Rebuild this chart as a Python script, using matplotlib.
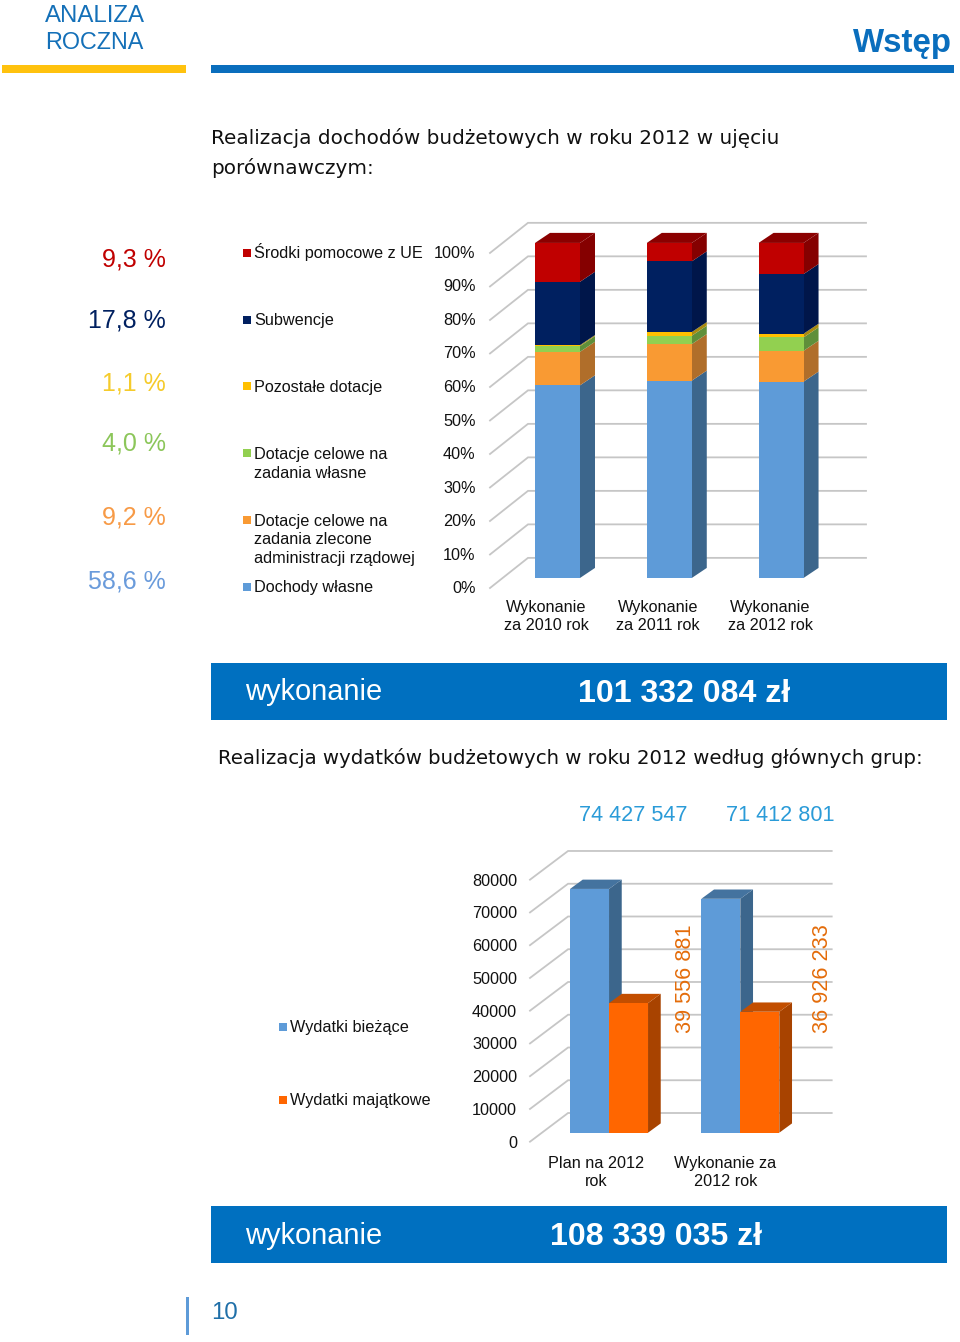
import matplotlib
matplotlib.use('Agg')
import matplotlib.pyplot as plt
from matplotlib.patches import Rectangle

W, H = 960, 1342
SANS = 'Liberation Sans'

# income shares, bottom to top of the stack
income_years = ['Wykonanie\nza 2010 rok', 'Wykonanie\nza 2011 rok', 'Wykonanie\nza 2012 rok']
dochody_wlasne = [57.5, 58.9, 58.6]
dotacje_zlecone = [10.0, 10.9, 9.2]
dotacje_wlasne = [1.7, 2.5, 4.0]
pozostale_dotacje = [0.3, 1.1, 1.1]
subwencje = [18.9, 21.1, 17.8]
srodki_ue = [11.6, 5.5, 9.3]
income_ticks = list(range(0, 101, 10))

# spending, thousands of zl
spend_cats = ['Plan na 2012\nrok', 'Wykonanie za\n2012 rok']
wydatki_biezace = [74427.547, 71412.801]
wydatki_majatkowe = [39556.881, 36926.233]
spend_ticks = list(range(0, 80001, 10000))

GRID = '#c6c6c6'
TICK_SIZE = 16.3

income_series = [
    (dochody_wlasne, '#5e9bd8', '#3c668c', '#3c668c'),
    (dotacje_zlecone, '#f99a33', '#b06e2a', '#b06e2a'),
    (dotacje_wlasne, '#92d050', '#5f8f3a', '#5f8f3a'),
    (pozostale_dotacje, '#ffc000', '#a98a10', '#a98a10'),
    (subwencje, '#002060', '#00164a', '#00164a'),
    (srodki_ue, '#c00000', '#850000', '#8b0000'),
]


def px(size):
    return size * 0.72


def axes_px(fig, left, top, right, bottom):
    return fig.add_axes([left / W, 1 - bottom / H, (right - left) / W, (bottom - top) / H])


def box3d(ax, x0, x1, y0, y1, dx, dy, face, side, top=None, z=3):
    ax.fill([x0, x1, x1, x0], [y0, y0, y1, y1], color=face, lw=0, zorder=z + 0.2)
    ax.fill([x1, x1 + dx, x1 + dx, x1], [y0, y0 + dy, y1 + dy, y1], color=side, lw=0, zorder=z)
    if top:
        ax.fill([x0, x1, x1 + dx, x0 + dx], [y1, y1, y1 + dy, y1 + dy], color=top, lw=0, zorder=z)


def walls(ax, ticks, x_front, x_back, x_right, y_front, y_back):
    for t in ticks:
        ax.plot([x_front, x_back, x_right], [t + y_front, t + y_back, t + y_back],
                color=GRID, lw=1.3, zorder=1, solid_joinstyle='miter', clip_on=False)


def clean(ax):
    ax.patch.set_alpha(0)
    for s in ax.spines.values():
        s.set_visible(False)
    ax.tick_params(length=0)


def style_ticks(ax, ypad, xpad):
    ax.tick_params(axis='y', pad=px(ypad), labelsize=px(TICK_SIZE))
    ax.tick_params(axis='x', pad=px(xpad), labelsize=px(TICK_SIZE))
    for t in ax.get_xticklabels():
        t.set_linespacing(1.27)
    for t in ax.get_xticklabels() + ax.get_yticklabels():
        t.set_family(SANS)
        t.set_color('#111111')


fig = plt.figure(figsize=(W / 100, H / 100), dpi=100)

# page furniture in pixel coordinates
page = fig.add_axes([0, 0, 1, 1])
page.set_xlim(0, W)
page.set_ylim(H, 0)
page.axis('off')


def block(x0, y0, x1, y1, color):
    page.add_patch(Rectangle((x0, y0), x1 - x0, y1 - y0, color=color, lw=0))


def label(x, base, s, size, color='#111111', ha='left', weight='normal', family=SANS):
    page.text(x, base, s, fontsize=px(size), color=color, ha=ha, va='baseline',
              fontweight=weight, family=family)


block(2, 65, 186, 73, '#ffc20e')
block(211, 65, 954, 73, '#0a6ebd')
label(45, 21.7, 'ANALIZA', 24, '#1470b8')
label(45, 49, 'ROCZNA', 23.4, '#1470b8')
label(951.5, 52, 'Wstęp', 33, '#0a6ebd', ha='right', weight='bold')

label(211, 144, 'Realizacja dochodów budżetowych w roku 2012 w ujęciu', 20.05, family='DejaVu Sans')
label(211, 174.5, 'porównawczym:', 20.05, family='DejaVu Sans')
label(218, 764.5, 'Realizacja wydatków budżetowych w roku 2012 według głównych grup:', 19.8, family='DejaVu Sans')

# share of 2012 beside the legend, top of the stack first
share_base = [266, 327.7, 390, 450.7, 524.3, 588.3]
share_colors = ['#c00000', '#002060', '#f5cb2b', '#8cc65a', '#f79a46', '#6a9bdb']
for (vals, *_), y, c in zip(income_series[::-1], share_base, share_colors):
    label(166, y, f'{vals[2]:.1f} %'.replace('.', ','), 25, c, ha='right')

income_legend = [
    (252.7, ['Środki pomocowe z UE'], '#c00000'),
    (319.7, ['Subwencje'], '#002060'),
    (386.3, ['Pozostałe dotacje'], '#ffc000'),
    (453.3, ['Dotacje celowe na', 'zadania własne'], '#92d050'),
    (520, ['Dotacje celowe na', 'zadania zlecone', 'administracji rządowej'], '#f99a33'),
    (586.7, ['Dochody własne'], '#5e9bd8'),
]
for y, lines, c in income_legend:
    block(243, y - 4, 251, y + 4, c)
    for k, s in enumerate(lines):
        label(254.5, y + 5.7 + 18.8 * k, s, TICK_SIZE)

block(211, 663, 947, 720, '#0070c0')
label(245.5, 700, 'wykonanie', 29, 'white')
label(578, 701.7, '101 332 084 zł', 32.2, 'white', weight='bold')
block(211, 1206, 947, 1263, '#0070c0')
label(245.5, 1243.5, 'wykonanie', 29, 'white')
label(550, 1245, '108 339 035 zł', 32.2, 'white', weight='bold')

block(186, 1297, 188.5, 1335, '#5e9bd8')
label(211.5, 1319.3, '10', 24, '#1f6fa8')

for y, s, c in [(1026.7, 'Wydatki bieżące', '#5e9bd8'), (1100, 'Wydatki majątkowe', '#ff6600')]:
    block(279, y - 4, 287, y + 4, c)
    label(290.5, y + 5.2, s, TICK_SIZE)

# income chart: 0-100 % maps to y 578..243, one category is 111.8 px
ax1 = axes_px(fig, 490, 222.5, 866, 588)
ax1.set_xlim(-0.604, 2.76)
ax1.set_ylim(-2.99, 106.1)
clean(ax1)
walls(ax1, income_ticks, -0.604, -0.264, 2.76, -2.99, 6.0)
BAR1 = 45 / 111.8
for i in range(len(income_years)):
    base = 0
    for n, (vals, face, side, top) in enumerate(income_series):
        last = n == len(income_series) - 1
        box3d(ax1, i - BAR1 / 2, i + BAR1 / 2, base, base + vals[i], 15 / 111.8, 3.0,
              face, side, top if last else None, z=3 + n * 0.01)
        base += vals[i]
ax1.set_yticks([t - 2.7 for t in income_ticks], [f'{t}%' for t in income_ticks])
ax1.set_xticks([i - 11 / 111.8 for i in range(3)], income_years)
style_ticks(ax1, 14.5, 12)

# spending chart: 80000 = 262 px, one category is 131.3 px
ax2 = axes_px(fig, 530, 850.7, 831.7, 1141.7)
ax2.set_xlim(-0.602, 1.696)
ax2.set_ylim(-2748, 86100)
clean(ax2)
walls(ax2, spend_ticks, -0.602, -0.312, 1.696, -2748, 6015)
BAR2 = 39 / 131.3
DX2, DY2 = 12.7 / 131.3, 2840
for i, (b, m) in enumerate(zip(wydatki_biezace, wydatki_majatkowe)):
    box3d(ax2, i - BAR2, i, 0, b, DX2, DY2, '#5e9bd8', '#3c668c', '#44739f', z=3)
    box3d(ax2, i, i + BAR2, 0, m, DX2, DY2, '#ff6600', '#a84300', '#c24e00', z=4)
    ax2.text(i + 0.58 + 0.045 * i, 47100, f'{m * 1000:,.0f}'.replace(',', ' '), rotation=90,
             color='#e46c0a', fontsize=px(21.7), family=SANS, ha='center', va='center', zorder=6)
    ax2.text(i + 0.185 + 0.12 * i, 96800, f'{b * 1000:,.0f}'.replace(',', ' '),
             color='#2a9bd8', fontsize=px(21.6), family=SANS, ha='center', va='center', clip_on=False)
ax2.set_yticks([t - 2748 for t in spend_ticks], [str(t) for t in spend_ticks])
ax2.set_xticks([i - 13 / 131.3 - 0.015 * i for i in range(2)], spend_cats)
style_ticks(ax2, 13, 14)

fig.savefig('out.png', dpi=100)
